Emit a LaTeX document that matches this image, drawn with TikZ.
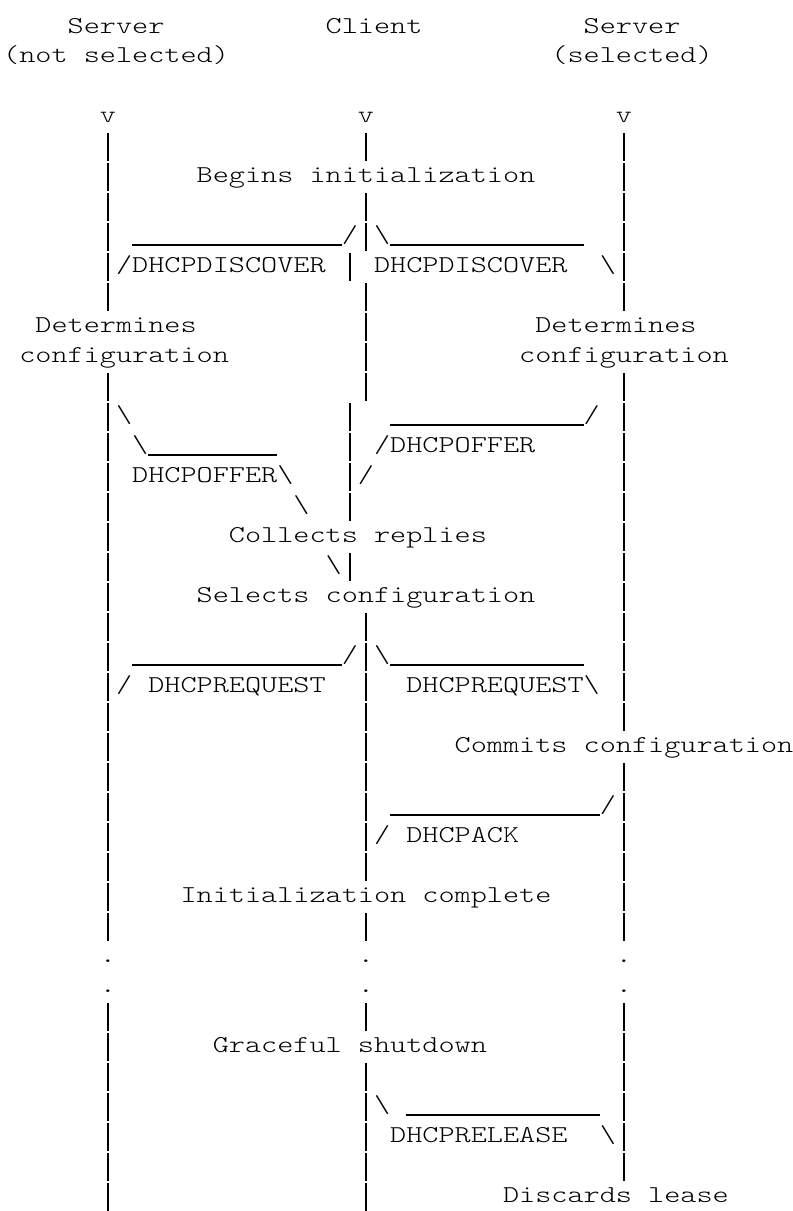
\documentclass[tikz,border=0pt]{standalone}
\usepackage{fontspec}
\newfontfamily\asciiface{lmmonolt10-regular.otf}[FakeStretch=1.2692]
\newcommand\asciifont{\fontsize{12.1pt}{15pt}\asciiface\fontdimen2\font=8.0625pt\relax}
\tikzset{
  ascii/.style={font=\asciifont, anchor=base west, inner sep=0pt, outer sep=0pt},
  lifeline/.style={line width=0.65pt},
  bar/.style={line width=0.65pt}
}

\begin{document}
\begin{tikzpicture}[x=8.0625pt, y=-15pt]
\fill[white] (-0.2,-0.1) rectangle (48.98,40.27);
\useasboundingbox (-0.2,-0.1) rectangle (48.98,40.27);

% Heads
\draw (4,1) node[ascii] (srvN) {Server};
\draw (20,1) node[ascii] (cli) {Client};
\draw (36,1) node[ascii] (srvS) {Server};
\draw (0,2) node[ascii] (srvNsub) {(not selected)};
\draw (34,2) node[ascii] (srvSsub) {(selected)};
\draw (6,4) node[ascii] (vN) {v};
\draw (22,4) node[ascii] (vC) {v};
\draw (38,4) node[ascii] (vS) {v};

% Lifelines
\foreach \a/\b in {5/10,13/31,34/40}
  \foreach \r in {\a,...,\b}
    \draw[lifeline] (6.5,\r-0.66) -- (6.5,\r+0.26);
\foreach \a/\b in {5/5,7/8,10/13,21/29,31/31,34/34,36/40}
  \foreach \r in {\a,...,\b}
    \draw[lifeline] (22.5,\r-0.66) -- (22.5,\r+0.26);
\foreach \a/\b in {9/9,14/17,19/19}
  \foreach \r in {\a,...,\b}
    \draw[lifeline] (21.5,\r-0.66) -- (21.5,\r+0.26);
\foreach \a/\b in {5/10,13/24,26/31,34/39}
  \foreach \r in {\a,...,\b}
    \draw[lifeline] (38.5,\r-0.66) -- (38.5,\r+0.26);
\foreach \c in {6,22,38}
  \foreach \r in {32,33}
    \draw (\c,\r) node[ascii] (dot-\c-\r) {.};

% Steps
\draw (12,6) node[ascii] (begin) {Begins initialization};
\draw (2,11) node[ascii] (detN) {Determines};
\draw (1,12) node[ascii] (cfgN) {configuration};
\draw (33,11) node[ascii] (detS) {Determines};
\draw (32,12) node[ascii] (cfgS) {configuration};
\draw (14,18) node[ascii] (collect) {Collects replies};
\draw (12,20) node[ascii] (select) {Selects configuration};
\draw (28,25) node[ascii] (commit) {Commits configuration};
\draw (11,30) node[ascii] (done) {Initialization complete};
\draw (13,35) node[ascii] (shut) {Graceful shutdown};
\draw (31,40) node[ascii] (discard) {Discards lease};

% DHCPDISCOVER
\draw (21,8) node[ascii] (dscLa) {/};
\coordinate (dscLb) at (8,8.07);
\draw[bar] (dscLb) -- (dscLa.base west |- dscLb);
\draw (7,9) node[ascii] (dscLc) {/};
\draw (8,9) node[ascii] (dscL) {DHCPDISCOVER};
\draw (23,8) node[ascii] (dscRa) {\textbackslash};
\coordinate (dscRb) at (36,8.07);
\draw[bar] (dscRa.base east |- dscRb) -- (dscRb);
\draw (23,9) node[ascii] (dscR) {DHCPDISCOVER};
\draw (37,9) node[ascii] (dscRc) {\textbackslash};

% DHCPOFFER
\draw (7,14) node[ascii] (offLa) {\textbackslash};
\draw (8,15) node[ascii] (offLb) {\textbackslash};
\coordinate (offLc) at (17,15.07);
\draw[bar] (offLb.base east |- offLc) -- (offLc);
\draw (8,16) node[ascii] (offL) {DHCPOFFER};
\draw (17,16) node[ascii] (offLd) {\textbackslash};
\draw (18,17) node[ascii] (offLe) {\textbackslash};
\draw (20,19) node[ascii] (offLf) {\textbackslash};
\draw (36,14) node[ascii] (offRa) {/};
\coordinate (offRb) at (24,14.07);
\draw[bar] (offRb) -- (offRa.base west |- offRb);
\draw (23,15) node[ascii] (offRc) {/};
\draw (24,15) node[ascii] (offR) {DHCPOFFER};
\draw (22,16) node[ascii] (offRd) {/};

% DHCPREQUEST
\draw (21,22) node[ascii] (reqLa) {/};
\coordinate (reqLb) at (8,22.07);
\draw[bar] (reqLb) -- (reqLa.base west |- reqLb);
\draw (7,23) node[ascii] (reqLc) {/};
\draw (9,23) node[ascii] (reqL) {DHCPREQUEST};
\draw (23,22) node[ascii] (reqRa) {\textbackslash};
\coordinate (reqRb) at (36,22.07);
\draw[bar] (reqRa.base east |- reqRb) -- (reqRb);
\draw (25,23) node[ascii] (reqR) {DHCPREQUEST};
\draw (36,23) node[ascii] (reqRc) {\textbackslash};

% DHCPACK
\draw (37,27) node[ascii] (ackA) {/};
\coordinate (ackB) at (24,27.07);
\draw[bar] (ackB) -- (ackA.base west |- ackB);
\draw (23,28) node[ascii] (ackC) {/};
\draw (25,28) node[ascii] (ack) {DHCPACK};

% DHCPRELEASE
\draw (23,37) node[ascii] (relA) {\textbackslash};
\coordinate (relB) at (25,37.07);
\coordinate (relC) at (37,37.07);
\draw[bar] (relB) -- (relC);
\draw (24,38) node[ascii] (rel) {DHCPRELEASE};
\draw (37,38) node[ascii] (relD) {\textbackslash};
\end{tikzpicture}
\end{document}
